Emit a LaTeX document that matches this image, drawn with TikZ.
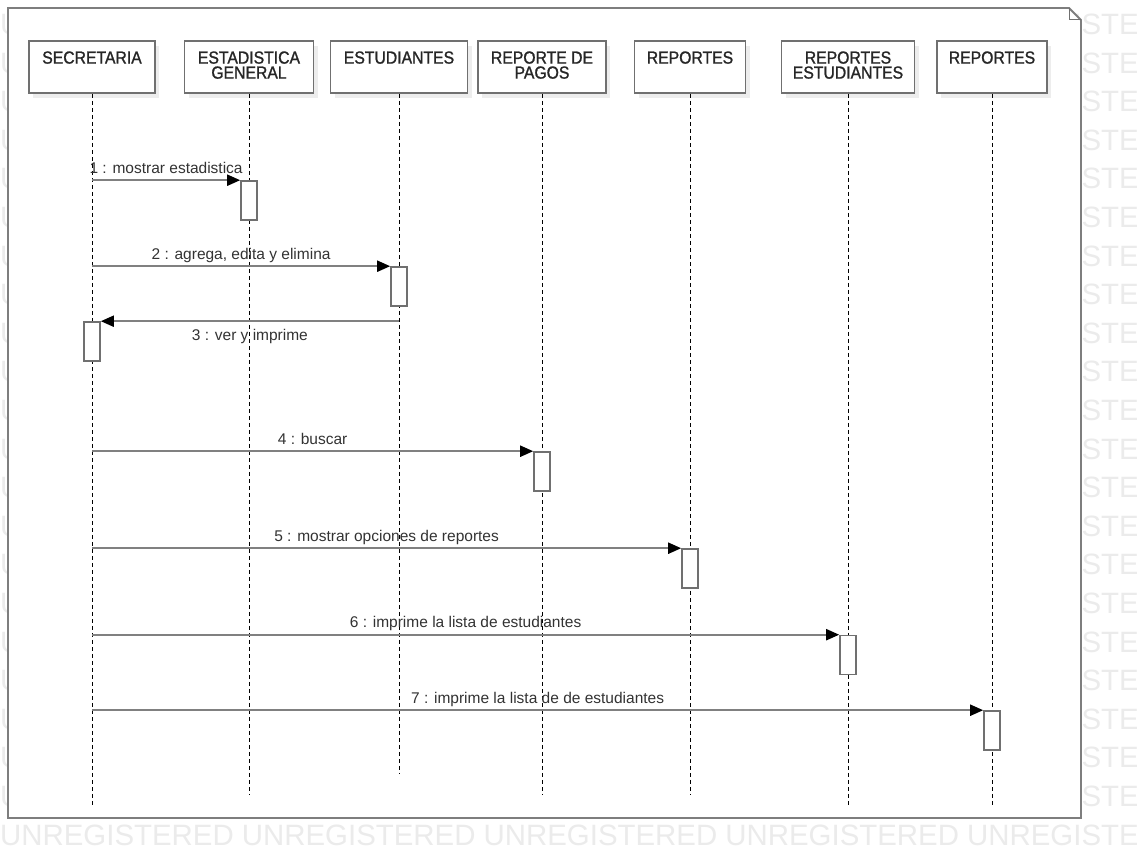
\documentclass[tikz,border=0pt]{standalone}
\usepackage{fontspec}
\setmainfont{Liberation Sans}
\newfontfamily\headfont[FakeStretch=0.9,FakeBold=1.2]{Liberation Sans}
\usetikzlibrary{arrows.meta,shadows}

\definecolor{edge}{HTML}{707070}
\definecolor{msg}{HTML}{808080}
\definecolor{ink}{HTML}{262626}
\definecolor{lbl}{HTML}{333333}
\definecolor{wm}{HTML}{EBEBEB}

\begin{document}
\begin{tikzpicture}[x=1pt,y=-1pt,
  wmtext/.style={anchor=base west, inner sep=0pt, text=wm,
    font=\fontsize{29.4}{30}\selectfont},
  frame/.style={draw=edge!90, line width=1.8pt},
  head/.style={draw=edge, line width=1.6pt, fill=white, minimum height=52pt,
    inner sep=0pt, drop shadow={shadow xshift=4pt, shadow yshift=-5pt, fill=black!7, opacity=1}},
  headtext/.style={anchor=north, inner sep=0pt, align=center, text=ink,
    font=\headfont\fontsize{17.5}{15}\selectfont},
  life/.style={draw=black, line width=1pt, dash pattern=on 4pt off 3pt},
  act/.style={draw=edge, line width=1.6pt, fill=white, minimum width=16pt,
    minimum height=39pt, inner sep=0pt},
  msgline/.style={draw=msg, line width=2pt,
    -{Triangle[length=13pt, width=11pt, color=black, fill=black]}},
  msglabel/.style={anchor=base, inner sep=0pt, text=lbl,
    font=\fontsize{15.5}{18}\selectfont}]

\useasboundingbox (0,0) rectangle (1137,851);
\fill[white] (0,0) rectangle (1137,851);

% background watermark rows
\begin{scope}
  \clip (0,0) rectangle (1137,851);
  \foreach \k in {0,...,21}{
    \node[wmtext] (wm\k) at (0,{34.5+38.6*\k})
      {UNREGISTERED UNREGISTERED UNREGISTERED UNREGISTERED UNREGISTERED};
  }
\end{scope}

% diagram frame with folded corner
\draw[frame, fill=white] (8,8) -- (1069,8) -- (1081,20) -- (1081,818) -- (8,818) -- cycle;
\draw[draw=edge, line width=1pt] (1069,8) -- (1069,20) -- (1081,20);

% lifeline heads
\node[head, minimum width=126pt] (sec)    at (92,67)  {};
\node[head, minimum width=129pt] (est)    at (249,67) {};
\node[head, minimum width=137pt] (estu)   at (399,67) {};
\node[head, minimum width=128pt] (pagos)  at (542,67) {};
\node[head, minimum width=111pt] (rep)    at (690,67) {};
\node[head, minimum width=133pt] (repest) at (848,67) {};
\node[head, minimum width=110pt] (rep2)   at (992,67) {};

\node[headtext] (secT)    at ([yshift=-11pt]sec.north)    {SECRETARIA};
\node[headtext] (estT)    at ([yshift=-11pt]est.north)    {ESTADISTICA\\GENERAL};
\node[headtext] (estuT)   at ([yshift=-11pt]estu.north)   {ESTUDIANTES};
\node[headtext] (pagosT)  at ([yshift=-11pt]pagos.north)  {REPORTE DE\\PAGOS};
\node[headtext] (repT)    at ([yshift=-11pt]rep.north)    {REPORTES};
\node[headtext] (repestT) at ([yshift=-11pt]repest.north) {REPORTES\\ESTUDIANTES};
\node[headtext] (rep2T)   at ([yshift=-11pt]rep2.north)   {REPORTES};

% lifelines
\coordinate (secE)    at (92,805);
\coordinate (estE)    at (249,795);
\coordinate (estuE)   at (399,773);
\coordinate (pagosE)  at (542,795);
\coordinate (repE)    at (690,795);
\coordinate (repestE) at (848,806);
\coordinate (rep2E)   at (992,806);
\draw[life] (sec.south)    -- (secE);
\draw[life] (est.south)    -- (estE);
\draw[life] (estu.south)   -- (estuE);
\draw[life] (pagos.south)  -- (pagosE);
\draw[life] (rep.south)    -- (repE);
\draw[life] (repest.south) -- (repestE);
\draw[life] (rep2.south)   -- (rep2E);

% activation bars
\node[act] (a1) at (249,200.5) {};
\node[act] (a2) at (399,286.5) {};
\node[act] (a3) at (92,341.5)  {};
\node[act] (a4) at (542,471.5) {};
\node[act] (a5) at (690,568.5) {};
\node[act] (a6) at (848,655)   {};
\node[act] (a7) at (992,730.5) {};

% messages
\draw[msgline] (a1.north west -| sec.south) -- (a1.north west)
  node[msglabel, midway, yshift=7pt] (m1) {1 : mostrar estadistica};
\draw[msgline] (a2.north west -| sec.south) -- (a2.north west)
  node[msglabel, midway, yshift=7pt] (m2) {2 : agrega, edita y elimina};
\draw[msgline] (a3.north east -| estu.south) -- (a3.north east)
  node[msglabel, midway, yshift=-19pt] (m3) {3 : ver y imprime};
\draw[msgline] (a4.north west -| sec.south) -- (a4.north west)
  node[msglabel, midway, yshift=7pt] (m4) {4 : buscar};
\draw[msgline] (a5.north west -| sec.south) -- (a5.north west)
  node[msglabel, midway, yshift=7pt] (m5) {5 : mostrar opciones de reportes};
\draw[msgline] (a6.north west -| sec.south) -- (a6.north west)
  node[msglabel, midway, yshift=7pt] (m6) {6 : imprime la lista de estudiantes};
\draw[msgline] (a7.north west -| sec.south) -- (a7.north west)
  node[msglabel, midway, yshift=7pt] (m7) {7 : imprime la lista de de estudiantes};

\end{tikzpicture}
\end{document}
